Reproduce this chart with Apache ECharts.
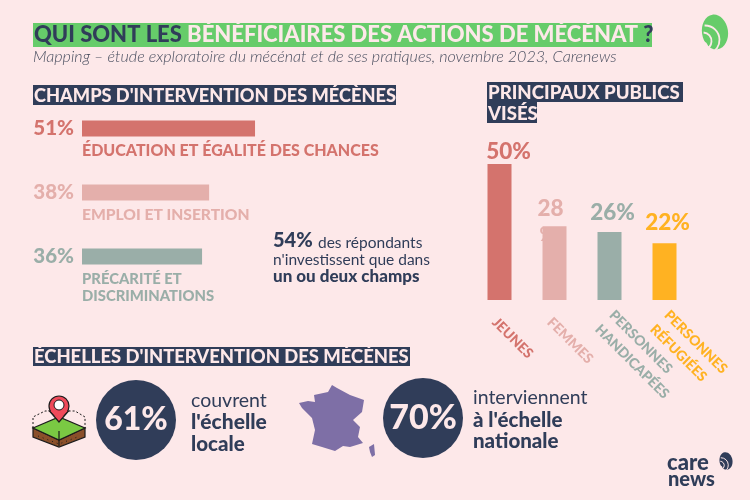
<!DOCTYPE html>
<html>
<head>
<meta charset="utf-8">
<script src="https://cdn.jsdelivr.net/npm/echarts@6/dist/echarts.min.js"></script>
<style>html,body{margin:0;padding:0;background:#fde8e9}#chart{width:750px;height:500px}</style>
</head>
<body>
<div id="chart"></div>
<script>
var champs = ['ÉDUCATION ET ÉGALITÉ DES CHANCES', 'EMPLOI ET INSERTION', 'PRÉCARITÉ ET\nDISCRIMINATIONS'];
var champsValues = [51, 38, 36];
var champsColors = ['#d4736d', '#e4afab', '#9aaea8'];
var champsFontSizes = [16, 15.6, 14.8];

var publics = ['JEUNES', 'FEMMES', 'PERSONNES\nHANDICAPÉES', 'PERSONNES\nRÉFUGIÉES'];
var publicsValues = [50, 28, 26, 22];
var publicsLabels = ['50%', '28', '26%', '22%'];
var publicsColors = ['#d4736d', '#e4afab', '#9aaea8', '#ffb222'];
var publicsLabelOffsets = [[9, 2], [-4, -3], [3, -5], [3, -6]];

var navy = '#303d59';
var pink = '#fde8e9';
var green = '#66cc6a';
var dark = '#1c1c1c';
var font = 'Lato';

var chart = echarts.init(document.getElementById('chart'));

function txt(x, y, text, size, color, weight, extra) {
    var style = {
        x: x, y: y, text: text, fill: color,
        font: (weight || 400) + ' ' + size + 'px ' + font,
        textVerticalAlign: 'top'
    };
    for (var k in (extra || {})) style[k] = extra[k];
    return {type: 'text', style: style};
}

function box(x, y, w, h, color) {
    return {type: 'rect', shape: {x: x, y: y, width: w, height: h}, style: {fill: color}};
}

function swirl(cx, cy, s, fill) {
    // logo : goutte avec deux arcs clairs
    return [
        {type: 'ellipse', shape: {cx: cx, cy: cy, rx: 13 * s, ry: 17.5 * s}, rotation: 0.15, originX: cx, originY: cy, style: {fill: fill}},
        {type: 'circle', shape: {cx: cx - 13 * s, cy: cy + 15 * s, r: 6 * s}, style: {fill: pink}},
        {type: 'arc', shape: {cx: cx - 10 * s, cy: cy + 8 * s, r: 14.5 * s, startAngle: -1.6, endAngle: 1.2}, style: {stroke: pink, lineWidth: 1.6 * s + 0.2, fill: 'none'}},
        {type: 'arc', shape: {cx: cx - 12 * s, cy: cy + 9 * s, r: 8.5 * s, startAngle: -1.5, endAngle: 1.3}, style: {stroke: pink, lineWidth: 1.6 * s + 0.2, fill: 'none'}}
    ];
}

var graphics = [
    // titre
    box(33, 23, 619, 24, green),
    {type: 'text', style: {
        x: 34, y: 35, textVerticalAlign: 'middle',
        text: '{a|QUI SONT LES }{b|BÉNÉFICIAIRES DES ACTIONS DE MÉCÉNAT }{a|?}',
        rich: {
            a: {fill: navy, font: '900 22px ' + font},
            b: {fill: pink, font: '900 22px ' + font}
        }
    }},
    txt(33, 49, 'Mapping – étude exploratoire du mécénat et de ses pratiques, novembre 2023, Carenews', 16.1, '#4a4f60', 300, {font: 'italic 300 16.1px ' + font}),

    // titres de section
    box(33, 85, 363, 20, navy),
    txt(34, 87, "CHAMPS D'INTERVENTION DES MÉCÈNES", 18.2, pink, 900),
    box(487, 82, 196, 20, navy),
    txt(488, 83, 'PRINCIPAUX PUBLICS', 18.6, pink, 900),
    box(487, 102, 50, 21, navy),
    txt(488, 104, 'VISÉS', 18.6, pink, 900),
    box(33, 347, 377, 19, navy),
    txt(34, 348, "ÉCHELLES D'INTERVENTION DES MÉCÈNES", 18.4, pink, 900),

    // le % coupé derrière la barre Femmes
    txt(539.5, 226, '%', 18, '#e4afab', 900),

    // encart 54 %
    txt(273, 231, '54%', 20, navy, 900),
    txt(318, 235, 'des répondants', 15.5, navy, 400),
    txt(273, 252, "n'investissent que dans", 15.5, navy, 400),
    txt(273, 268, 'un ou deux champs', 17, navy, 900),

    // échelles
    {type: 'circle', shape: {cx: 136, cy: 420, r: 40}, style: {fill: navy}},
    txt(136, 420, '61%', 32, pink, 900, {textAlign: 'center', textVerticalAlign: 'middle'}),
    txt(191, 391, 'couvrent', 19.5, navy, 400),
    txt(191, 412, "l'échelle", 21, navy, 900),
    txt(191, 434, 'locale', 20.5, navy, 900),

    {type: 'circle', shape: {cx: 423, cy: 418, r: 40}, style: {fill: navy}},
    txt(423, 418, '70%', 34, pink, 900, {textAlign: 'center', textVerticalAlign: 'middle'}),
    txt(473, 388, 'interviennent', 19.5, navy, 400),
    txt(473, 410, "à l'échelle", 20.5, navy, 900),
    txt(473, 431, 'nationale', 20.5, navy, 900),

    // France
    {type: 'polygon', shape: {points: [[299, 403], [308, 401], [315, 402], [314, 395], [328, 392], [332, 385], [337, 388], [350, 395], [364, 400], [362, 412], [353, 420], [360, 427], [358, 437], [363, 443], [350, 447], [343, 446], [335, 451], [322, 447], [312, 444], [315, 430], [312, 418], [302, 408]]}, style: {fill: '#7e6fa6'}},
    {type: 'polygon', shape: {points: [[369, 447], [374, 444], [375, 455], [372, 457], [370, 452]]}, style: {fill: '#7e6fa6'}},

    // icône lieu
    {type: 'polyline', shape: {points: [[33, 428], [33, 417], [45, 411], [75, 411], [85, 417], [85, 428]]}, style: {stroke: dark, lineWidth: 1, lineDash: [2, 2], fill: 'none'}},
    {type: 'polygon', shape: {points: [[33, 428], [59, 440], [85, 428], [85, 437], [59, 447], [33, 437]]}, style: {fill: '#8a4f2a', stroke: dark, lineWidth: 1.2}},
    {type: 'polygon', shape: {points: [[33, 428], [59, 417], [85, 428], [59, 440]]}, style: {fill: '#7ac943', stroke: dark, lineWidth: 1.2}},
    {type: 'polyline', shape: {points: [[59, 431], [59, 446]]}, style: {stroke: dark, lineWidth: 1.2, fill: 'none'}},
    {type: 'polyline', shape: {points: [[38, 436], [59, 444], [80, 436]]}, style: {stroke: dark, lineWidth: 1, lineDash: [1, 4], fill: 'none'}},
    {type: 'polygon', shape: {points: [[49.5, 411], [59, 422], [68.5, 411]]}, style: {fill: '#ef4a5a', stroke: dark, lineWidth: 1.2}},
    {type: 'circle', shape: {cx: 59, cy: 406, r: 10}, style: {fill: '#ef4a5a', stroke: dark, lineWidth: 1.2}},
    {type: 'polygon', shape: {points: [[50.5, 411], [59, 420], [67.5, 411]]}, style: {fill: '#ef4a5a'}},
    {type: 'circle', shape: {cx: 59, cy: 405, r: 5}, style: {fill: '#fff', stroke: dark, lineWidth: 1}},

    // logo care news
    txt(667, 452, 'care', 22, navy, 900),
    txt(668, 470, 'news', 20, navy, 900)
];
graphics = graphics.concat(swirl(715, 32, 1, green), swirl(726, 461, 0.5, navy));

var option = {
    backgroundColor: pink,
    animation: false,
    textStyle: {fontFamily: font},
    grid: [
        {left: 82, top: 96.5, width: 220, height: 192},
        {left: 472, top: 164, width: 220, height: 136},
        // grille sans barres : porte seulement les libellés inclinés, décalés sous les barres
        {left: 467, top: 172, width: 220, height: 136}
    ],
    xAxis: [
        {gridIndex: 0, type: 'value', min: 2, max: 64.3, show: false},
        {gridIndex: 1, type: 'category', data: publics, show: false},
        {
            gridIndex: 2, type: 'category',
            data: publics.map(function (name, i) {
                return {value: name, textStyle: {color: publicsColors[i]}};
            }),
            axisLine: {show: false}, axisTick: {show: false},
            axisLabel: {
                interval: 0, rotate: -45, margin: 12,
                align: 'left', verticalAlign: 'top',
                padding: [15, 0, 0, 0],
                fontSize: 14, fontWeight: 900, fontFamily: font, lineHeight: 20
            }
        }
    ],
    yAxis: [
        {
            gridIndex: 0, type: 'category', inverse: true,
            data: champs.map(function (name, i) {
                return {value: name, textStyle: {color: champsColors[i]}};
            }),
            axisLine: {show: false}, axisTick: {show: false},
            axisLabel: {
                margin: 8, fontSize: 20.5, fontWeight: 900, fontFamily: font,
                formatter: function (v, i) { return champsValues[i] + '%'; }
            }
        },
        {gridIndex: 1, type: 'value', min: 2, max: 50, show: false},
        {gridIndex: 2, type: 'value', min: 2, max: 50, show: false}
    ],
    series: [
        {
            type: 'bar', xAxisIndex: 0, yAxisIndex: 0, barWidth: 16,
            data: champsValues.map(function (v, i) {
                return {
                    value: v,
                    itemStyle: {color: champsColors[i]},
                    label: {color: champsColors[i], fontSize: champsFontSizes[i]}
                };
            }),
            label: {
                show: true, position: [0, 22], align: 'left', verticalAlign: 'top',
                fontWeight: 900, fontFamily: font, lineHeight: 17,
                formatter: function (p) { return p.name; }
            }
        },
        {
            type: 'bar', xAxisIndex: 1, yAxisIndex: 1, barWidth: 24,
            data: publicsValues.map(function (v, i) {
                return {
                    value: v,
                    itemStyle: {color: publicsColors[i]},
                    label: {color: publicsColors[i], offset: publicsLabelOffsets[i]}
                };
            }),
            label: {
                show: true, position: 'top', distance: 3,
                fontSize: 22.5, fontWeight: 900, fontFamily: font,
                formatter: function (p) { return publicsLabels[p.dataIndex]; }
            }
        }
    ],
    graphic: {elements: graphics}
};
chart.setOption(option);
</script>
</body>
</html>
